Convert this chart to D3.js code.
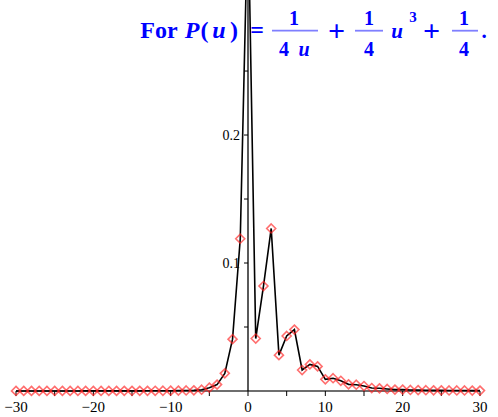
<!DOCTYPE html>
<html>
<head>
<meta charset="utf-8">
<script src="https://cdn.jsdelivr.net/npm/d3@7"></script>
<style>
	body { margin: 0; background: #fff; }
	svg { display: block; }
	svg text { font-family: "Liberation Serif", "Times New Roman", Roboto, sans-serif; }
</style>
</head>
<body>
<script>
// values, x = -30..30
var xValues = d3.range(-30, 31);
var yValues = [
	0.00005, 0.00005, 0.00005, 0.00005, 0.00005, 0.00005, 0.00005, 0.00005, 0.00005, 0.00006,
	0.00006, 0.00007, 0.00008, 0.00009, 0.0001, 0.0001, 0.00012, 0.00014, 0.00016, 0.0002,
	0.00025, 0.0003, 0.0004, 0.0005, 0.0010, 0.0026, 0.0050, 0.0138, 0.0405, 0.119,
	0.38,
	0.041, 0.082, 0.127, 0.028, 0.043, 0.048, 0.0164, 0.0208, 0.0192, 0.0091,
	0.0100, 0.0080, 0.0052, 0.0049, 0.0039, 0.0023, 0.0021, 0.0016, 0.0011, 0.0011,
	0.0008, 0.0007, 0.0006, 0.0005, 0.0005, 0.0004, 0.0004, 0.0004, 0.0003, 0.0003
];
var xTickLabels = [-30, -20, -10, 0, 10, 20, 30];
var xMinorTicks = d3.range(-30, 31, 5);
var yTickLabels = [0.1, 0.2];
var yMinorTicks = [0.05, 0.1, 0.15, 0.2, 0.25];

var width = 498, height = 417;

var x = d3.scaleLinear().domain([-30, 30]).range([16, 480]);
var y = d3.scaleLinear().domain([0, 0.3055]).range([391, 0]);

var svg = d3.select("body").append("svg")
	.attr("width", width)
	.attr("height", height);

svg.append("clipPath").attr("id", "plotClip")
	.append("rect")
	.attr("x", 0).attr("y", 0)
	.attr("width", width).attr("height", 400);

// horizontal axis (grey) with ticks below
svg.append("line")
	.attr("x1", x(-30)).attr("x2", x(30))
	.attr("y1", y(0)).attr("y2", y(0))
	.attr("stroke", "#6e6e6e")
	.attr("stroke-width", 2);

svg.selectAll("line.xtick").data(xMinorTicks).enter().append("line")
	.classed("xtick", 1)
	.attr("x1", function(d) { return x(d); })
	.attr("x2", function(d) { return x(d); })
	.attr("y1", y(0))
	.attr("y2", y(0) + 5)
	.attr("stroke", "#000")
	.attr("stroke-width", 1);

svg.selectAll("text.xlabel").data(xTickLabels).enter().append("text")
	.classed("xlabel", 1)
	.text(function(d) { return d < 0 ? "\u2212" + Math.abs(d) : d; })
	.attr("x", function(d) { return x(d); })
	.attr("y", 412)
	.attr("text-anchor", "middle")
	.attr("font-size", "15px")
	.attr("fill", "#000");

// vertical axis with ticks to the left
svg.append("line")
	.attr("x1", x(0)).attr("x2", x(0))
	.attr("y1", y(0)).attr("y2", 0)
	.attr("stroke", "#000")
	.attr("stroke-width", 1.3);

svg.selectAll("line.ytick").data(yMinorTicks).enter().append("line")
	.classed("ytick", 1)
	.attr("x1", x(0) - 4)
	.attr("x2", x(0))
	.attr("y1", function(d) { return y(d); })
	.attr("y2", function(d) { return y(d); })
	.attr("stroke", "#000")
	.attr("stroke-width", 1);

svg.selectAll("text.ylabel").data(yTickLabels).enter().append("text")
	.classed("ylabel", 1)
	.text(function(d) { return d.toFixed(1); })
	.attr("x", x(0) - 8)
	.attr("y", function(d) { return y(d) + 5; })
	.attr("text-anchor", "end")
	.attr("font-size", "14px")
	.attr("fill", "#000");

// data line and diamond markers
var points = xValues.map(function(d, i) { return [d, yValues[i]]; });
var plot = svg.append("g").attr("clip-path", "url(#plotClip)");

plot.append("path")
	.datum(points)
	.attr("fill", "none")
	.attr("stroke", "#000")
	.attr("stroke-width", 1.6)
	.attr("d", d3.line()
		.x(function(d) { return x(d[0]); })
		.y(function(d) { return y(d[1]); }));

plot.selectAll("path.marker").data(points).enter().append("path")
	.classed("marker", 1)
	.attr("transform", function(d) { return "translate(" + x(d[0]) + "," + y(d[1]) + ")"; })
	.attr("d", "M0,-4.5L4.5,0L0,4.5L-4.5,0Z")
	.attr("fill", "none")
	.attr("stroke", "#ff2020")
	.attr("stroke-opacity", 0.65)
	.attr("stroke-width", 1.6);

// title: For P(u) = 1/(4u) + 1/4 u^3 + 1/4.
var blue = "#0000ff";
var title = svg.append("g")
	.attr("font-weight", "bold")
	.attr("fill", blue)
	.attr("text-anchor", "middle");

function put(str, cx, py, size, italic)
{
	return title.append("text")
		.text(str)
		.attr("x", cx)
		.attr("y", py)
		.attr("font-size", size + "px")
		.attr("font-style", italic ? "italic" : "normal");
}

function bar(x1, x2)
{
	title.append("line")
		.attr("x1", x1).attr("x2", x2)
		.attr("y1", 30.7).attr("y2", 30.7)
		.attr("stroke", "#7f7fff")
		.attr("stroke-width", 1.8);
}

put("For", 159, 38, 24);
put("P", 192, 38, 24, true);
put("(", 204.5, 38, 24);
put("u", 219, 38, 24, true);
put(")", 234, 38, 24);
put("=", 257, 38, 24);

bar(272, 318);
put("1", 294, 25, 20);
put("4", 284, 56, 20);
put("u", 304, 56, 20, true);

put("+", 336.5, 41, 30);

bar(355, 383);
put("1", 369, 25, 20);
put("4", 369, 56, 20);
put("u", 397, 38, 21, true);
put("3", 413, 22, 15);

put("+", 431.5, 41, 30);

bar(452, 478);
put("1", 464, 25, 20);
put("4", 464, 56, 20);
put(".", 484, 38, 21);
</script>
</body>
</html>
